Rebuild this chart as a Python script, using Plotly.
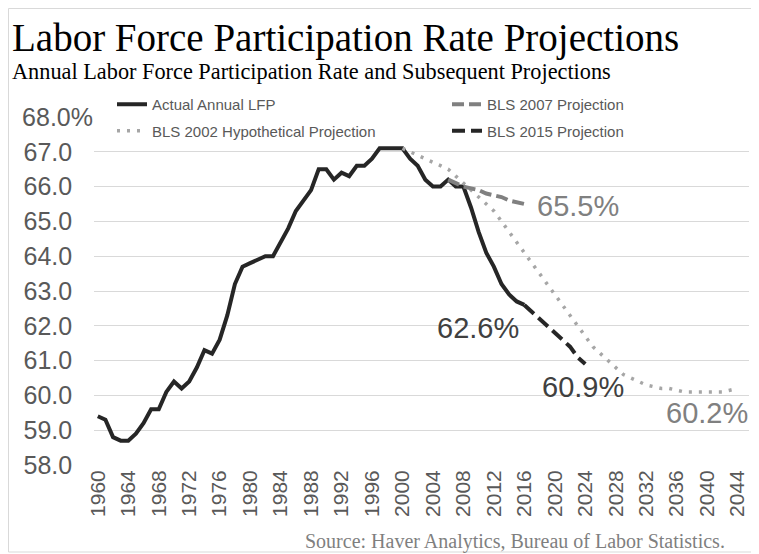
import plotly.graph_objects as go

# Actual annual labor force participation rate, 1960-2016
actual_years = list(range(1960, 2017))
actual_lfp = [59.4, 59.3, 58.8, 58.7, 58.7, 58.9, 59.2, 59.6, 59.6, 60.1,
              60.4, 60.2, 60.4, 60.8, 61.3, 61.2, 61.6, 62.3, 63.2, 63.7,
              63.8, 63.9, 64.0, 64.0, 64.4, 64.8, 65.3, 65.6, 65.9, 66.5,
              66.5, 66.2, 66.4, 66.3, 66.6, 66.6, 66.8, 67.1, 67.1, 67.1,
              67.1, 66.8, 66.6, 66.2, 66.0, 66.0, 66.2, 66.0, 66.0, 65.4,
              64.7, 64.1, 63.7, 63.2, 62.9, 62.7, 62.6]

# BLS 2002 hypothetical projection, 2000-2044
bls2002_years = list(range(2000, 2045))
bls2002_lfp = [67.1, 67.0, 66.9, 66.8, 66.7, 66.6, 66.5, 66.3, 66.1, 65.9,
               65.7, 65.5, 65.3, 65.0, 64.7, 64.4, 64.1, 63.8, 63.5, 63.2,
               62.9, 62.6, 62.3, 62.0, 61.7, 61.4, 61.2, 61.0, 60.8, 60.6,
               60.5, 60.4, 60.3, 60.25, 60.2, 60.2, 60.15, 60.1, 60.1, 60.1,
               60.1, 60.1, 60.1, 60.15, 60.2]

# BLS 2007 projection, 2006-2016
bls2007_years = list(range(2006, 2017))
bls2007_lfp = [66.2, 66.1, 66.0, 65.95, 65.9, 65.8, 65.75, 65.7, 65.6, 65.55, 65.5]

# BLS 2015 projection, 2016-2024
bls2015_years = list(range(2016, 2025))
bls2015_lfp = [62.6, 62.4, 62.2, 62.0, 61.8, 61.6, 61.4, 61.1, 60.9]

x_ticks = list(range(1960, 2045, 4))
y_ticks = [58, 59, 60, 61, 62, 63, 64, 65, 66, 67, 68]
y_ticktext = [f"{v:.1f}" + "\u00a0" * 3 for v in y_ticks[:-1]] + ["68.0%"]

# the page puts the figure 8px in from the top-left corner
OFF = 8
W, H = 759 - OFF, 554 - OFF
L, R, T, B = 94 - OFF, 10, 117 - OFF, 89
PW, PH = W - L - R, H - T - B


def px_x(px):
    # screen x pixel -> paper x
    return (px - OFF - L) / PW


def px_y(py):
    # screen y pixel -> paper y
    return (H - B - (py - OFF)) / PH


fig = go.Figure()

fig.add_trace(go.Scatter(
    x=actual_years, y=actual_lfp, mode='lines', name='Actual Annual LFP',
    line=dict(color='#262626', width=4), legend='legend', legendgroup='a'
))
fig.add_trace(go.Scatter(
    x=bls2002_years, y=bls2002_lfp, mode='lines', name='BLS 2002 Hypothetical Projection',
    line=dict(color='#a6a6a6', width=3.5, dash='3px,7px'), legend='legend', legendgroup='b'
))
fig.add_trace(go.Scatter(
    x=bls2007_years, y=bls2007_lfp, mode='lines', name='BLS 2007 Projection',
    line=dict(color='#808080', width=4, dash='12px,5px'), legend='legend2', legendgroup='c'
))
fig.add_trace(go.Scatter(
    x=bls2015_years, y=bls2015_lfp, mode='lines', name='BLS 2015 Projection',
    line=dict(color='#262626', width=4, dash='13px,6px'), legend='legend2', legendgroup='d'
))

# value labels
labels = [
    (2017.4, 65.45, '65.5%', '#808080'),
    (2004.3, 61.95, '62.6%', '#404040'),
    (2018.0, 60.23, '60.9%', '#404040'),
    (2034.3, 59.5, '60.2%', '#808080'),
]
for lx, ly, txt, col in labels:
    fig.add_annotation(x=lx, y=ly, text=txt, showarrow=False, xanchor='left',
                       yanchor='middle', font=dict(family='Arial, Liberation Sans', size=29, color=col))

# titles and source
fig.add_annotation(x=px_x(10), y=px_y(38), xref='paper', yref='paper', text='Labor Force Participation Rate Projections',
                   showarrow=False, xanchor='left', yanchor='middle',
                   font=dict(family='Liberation Serif, Times New Roman', size=39, color='#000000'))
fig.add_annotation(x=px_x(10), y=px_y(72), xref='paper', yref='paper',
                   text='Annual Labor Force Participation Rate and Subsequent Projections',
                   showarrow=False, xanchor='left', yanchor='middle',
                   font=dict(family='Liberation Serif, Times New Roman', size=22.3, color='#000000'))
fig.add_annotation(x=px_x(727), y=px_y(541), xref='paper', yref='paper',
                   text='Source: Haver Analytics, Bureau of Labor Statistics.',
                   showarrow=False, xanchor='right', yanchor='middle',
                   font=dict(family='Liberation Serif, Times New Roman', size=20, color='#7f7f7f'))

# outer frame
fig.add_shape(type='rect', xref='paper', yref='paper',
              x0=px_x(8.5), x1=px_x(757), y0=px_y(552), y1=px_y(8.5),
              line=dict(color='#d9d9d9', width=1))

legend_font = dict(family='Arial, Liberation Sans', size=15, color='#595959')
fig.update_layout(
    width=W, height=H,
    margin=dict(l=L, r=R, t=T, b=B, autoexpand=False),
    plot_bgcolor='white', paper_bgcolor='white',
    legend=dict(x=px_x(112), y=px_y(88), xanchor='left', yanchor='top', orientation='v',
                font=legend_font, bgcolor='rgba(0,0,0,0)', tracegroupgap=4, itemwidth=30),
    legend2=dict(x=px_x(447), y=px_y(88), xanchor='left', yanchor='top', orientation='v',
                 font=legend_font, bgcolor='rgba(0,0,0,0)', tracegroupgap=4, itemwidth=30),
    xaxis=dict(range=[1959.5, 2045.5], tickvals=x_ticks, tickangle=-90, showgrid=False,
               zeroline=False, showline=False, ticks='', automargin=False,
               tickfont=dict(family='Arial, Liberation Sans', size=21, color='#595959')),
    yaxis=dict(range=[58, 68], tickvals=y_ticks, ticktext=y_ticktext, showgrid=True,
               gridcolor='#d9d9d9', gridwidth=1, zeroline=False, showline=False, ticks='',
               automargin=False,
               tickfont=dict(family='Arial, Liberation Sans', size=25, color='#595959')),
)

fig.write_html('out.html')
